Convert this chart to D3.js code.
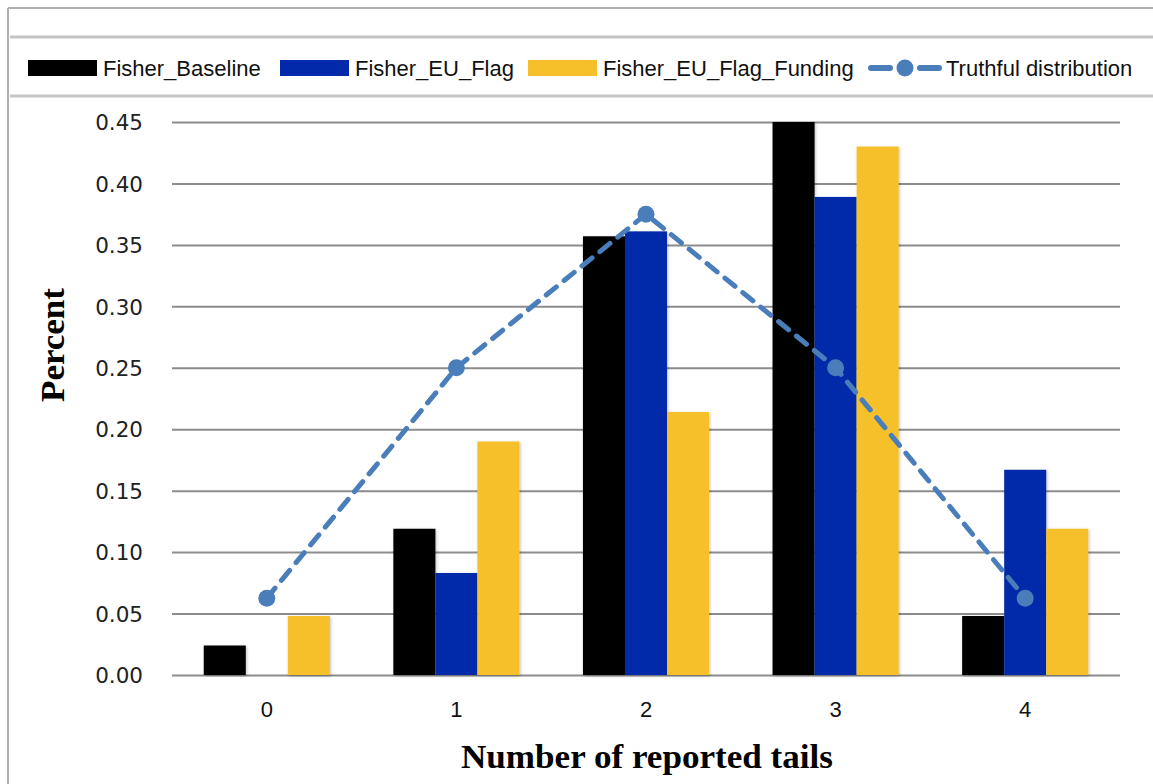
<!DOCTYPE html>
<html>
<head>
<meta charset="utf-8">
<script src="https://cdn.jsdelivr.net/npm/d3@7"></script>
<style>
  body { margin: 0; background: #fff; }
  svg { display: block; }
</style>
</head>
<body>
<div class="graphic"></div>
<script>
// chart data
var categories = ["0", "1", "2", "3", "4"];
var seriesNames = ["Fisher_Baseline", "Fisher_EU_Flag", "Fisher_EU_Flag_Funding"];
var baseline = [0.024, 0.119, 0.357, 0.452, 0.048];
var euFlag = [0.0, 0.083, 0.361, 0.389, 0.167];
var euFlagFunding = [0.048, 0.19, 0.214, 0.43, 0.119];
var truthful = [0.0625, 0.25, 0.375, 0.25, 0.0625];
var lineName = "Truthful distribution";
var yTicks = [0, 0.05, 0.10, 0.15, 0.20, 0.25, 0.30, 0.35, 0.40, 0.45];

var colors = ["#000000", "#0229a9", "#f5c02a"];
var lineColor = "#4a7ebb";

var W = 1153, H = 784;
var margin = {top: 122, right: 33, bottom: 109, left: 172},
    width = W - margin.left - margin.right,
    height = H - margin.top - margin.bottom;

var svg = d3.select(".graphic").append("svg")
    .attr("width", W)
    .attr("height", H);

var defs = svg.append("defs");
var shadow = defs.append("filter").attr("id", "shadow")
    .attr("x", "-20%").attr("y", "-5%").attr("width", "140%").attr("height", "110%");
shadow.append("feDropShadow")
    .attr("dx", 1).attr("dy", 1).attr("stdDeviation", 1.5)
    .attr("flood-color", "#000").attr("flood-opacity", 0.25);

// outer frame
svg.append("line").attr("x1", 8).attr("x2", W).attr("y1", 8).attr("y2", 8)
    .attr("stroke", "#b0b0b0").attr("stroke-width", 2);
svg.append("line").attr("x1", 8).attr("x2", 8).attr("y1", 8).attr("y2", H)
    .attr("stroke", "#b0b0b0").attr("stroke-width", 2);

// legend box
svg.append("line").attr("x1", 10).attr("x2", W).attr("y1", 37).attr("y2", 37)
    .attr("stroke", "#c4c4c4").attr("stroke-width", 3);
svg.append("line").attr("x1", 10).attr("x2", W).attr("y1", 96).attr("y2", 96)
    .attr("stroke", "#c4c4c4").attr("stroke-width", 3);

var data = categories.map(function(c, i) {
  return {cat: c, values: [baseline[i], euFlag[i], euFlagFunding[i]]};
});

// scales
var x0 = d3.scaleBand()
    .domain(categories)
    .range([0, width])
    .paddingInner(0.335)
    .paddingOuter(0.1675);
var x1 = d3.scaleBand()
    .domain(seriesNames)
    .range([0, x0.bandwidth()]);
var y = d3.scaleLinear()
    .domain([0, 0.45])
    .range([height, 0])
    .clamp(true);

var g = svg.append("g")
    .attr("transform", "translate(" + margin.left + "," + margin.top + ")");

// grid lines
g.append("g")
    .call(d3.axisLeft(y).tickValues(yTicks).tickSize(-width).tickFormat(""))
    .call(function(a) {
      a.select(".domain").remove();
      a.selectAll("line").attr("stroke", "#8c8c8c").attr("stroke-width", 2);
    });

// y tick labels
g.append("g")
    .attr("transform", "translate(-26,0)")
    .call(d3.axisLeft(y).tickValues(yTicks).tickSize(0).tickFormat(d3.format(".2f")))
    .call(function(a) {
      a.select(".domain").remove();
      a.selectAll("text")
        .attr("font-family", "DejaVu Sans, sans-serif")
        .attr("font-size", 21.5)
        .attr("fill", "#222")
        .attr("dy", "0.36em");
    });

// x tick labels
g.append("g")
    .attr("transform", "translate(0," + height + ")")
    .call(d3.axisBottom(x0).tickSize(0).tickPadding(26))
    .call(function(a) {
      a.select(".domain").remove();
      a.selectAll("text")
        .attr("font-family", "Liberation Sans Narrow, Arial Narrow, sans-serif")
        .attr("font-size", 22)
        .attr("fill", "#111");
    });

// bars
var groups = g.selectAll(".group")
    .data(data)
    .enter().append("g")
    .attr("class", "group")
    .attr("transform", function(d) { return "translate(" + x0(d.cat) + ",0)"; });

groups.selectAll("rect")
    .data(function(d) { return d.values.map(function(v, i) { return {name: seriesNames[i], value: v, i: i}; }); })
    .enter().append("rect")
    .filter(function(d) { return d.value > 0; })
    .attr("x", function(d) { return x1(d.name); })
    .attr("width", x1.bandwidth())
    .attr("y", function(d) { return y(d.value); })
    .attr("height", function(d) { return height - y(d.value); })
    .attr("fill", function(d) { return colors[d.i]; })
    .attr("filter", "url(#shadow)");

// truthful line
var line = d3.line()
    .x(function(d, i) { return x0(categories[i]) + x0.bandwidth() / 2; })
    .y(function(d) { return y(d); });

g.append("path")
    .datum(truthful)
    .attr("d", line)
    .attr("fill", "none")
    .attr("stroke", lineColor)
    .attr("stroke-width", 5)
    .attr("stroke-dasharray", "13,10")
    .attr("stroke-linecap", "round");

g.selectAll(".dot")
    .data(truthful)
    .enter().append("circle")
    .attr("class", "dot")
    .attr("cx", function(d, i) { return x0(categories[i]) + x0.bandwidth() / 2; })
    .attr("cy", function(d) { return y(d); })
    .attr("r", 8.5)
    .attr("fill", lineColor);

// axis titles
svg.append("text")
    .attr("transform", "translate(64,345) rotate(-90)")
    .attr("text-anchor", "middle")
    .attr("font-family", "Liberation Serif, Times New Roman, serif")
    .attr("font-weight", "bold")
    .attr("font-size", 33)
    .attr("textLength", 114)
    .attr("lengthAdjust", "spacingAndGlyphs")
    .text("Percent");

svg.append("text")
    .attr("x", 647)
    .attr("y", 768)
    .attr("text-anchor", "middle")
    .attr("font-family", "Liberation Serif, Times New Roman, serif")
    .attr("font-weight", "bold")
    .attr("font-size", 33)
    .attr("textLength", 372)
    .attr("lengthAdjust", "spacingAndGlyphs")
    .text("Number of reported tails");

// legend
var legendFont = "Liberation Sans Narrow, Arial Narrow, sans-serif";
var legendItems = [
  {name: seriesNames[0], x: 28, type: "bar", color: colors[0]},
  {name: seriesNames[1], x: 280, type: "bar", color: colors[1]},
  {name: seriesNames[2], x: 528, type: "bar", color: colors[2]},
  {name: lineName, x: 868, type: "line", color: lineColor}
];

var legend = svg.append("g");
legendItems.forEach(function(d) {
  var item = legend.append("g").attr("transform", "translate(" + d.x + ",68)");
  if (d.type === "bar") {
    item.append("rect")
      .attr("x", 0).attr("y", -8)
      .attr("width", 69).attr("height", 16)
      .attr("fill", d.color);
    item.append("text")
      .attr("x", 75).attr("dy", "0.35em")
      .attr("font-family", legendFont)
      .attr("font-size", 22)
      .attr("fill", "#111")
      .text(d.name);
  } else {
    [[3, 22], [52, 71]].forEach(function(s) {
      item.append("line")
        .attr("x1", s[0]).attr("x2", s[1]).attr("y1", 0).attr("y2", 0)
        .attr("stroke", d.color).attr("stroke-width", 6)
        .attr("stroke-linecap", "round");
    });
    item.append("circle")
      .attr("cx", 37).attr("cy", 0).attr("r", 8.5)
      .attr("fill", d.color);
    item.append("text")
      .attr("x", 78).attr("dy", "0.35em")
      .attr("font-family", legendFont)
      .attr("font-size", 22)
      .attr("fill", "#111")
      .text(d.name);
  }
});
</script>
</body>
</html>
